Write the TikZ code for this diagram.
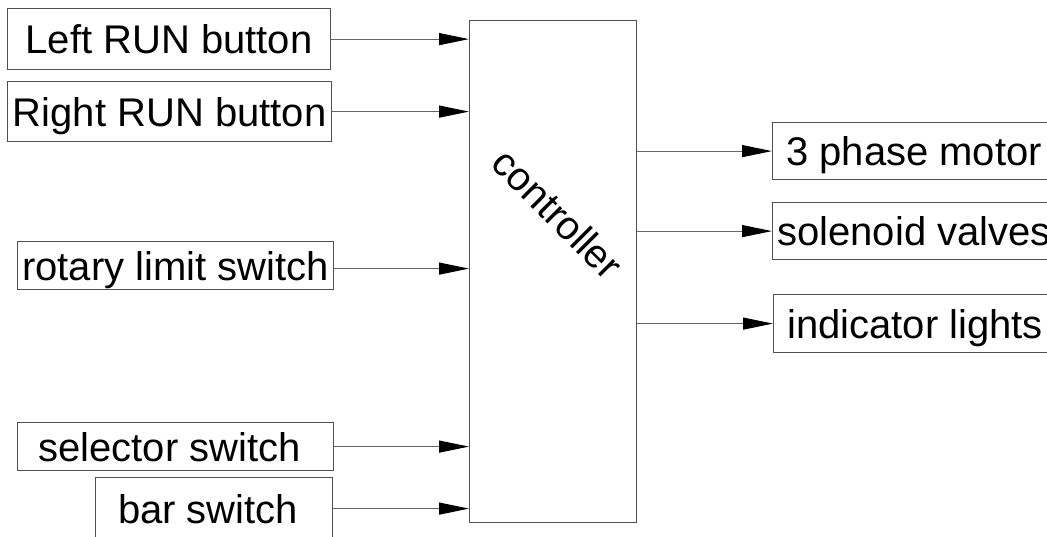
\documentclass[tikz,border=0pt]{standalone}
\usepackage{fontspec}
\setmainfont{Liberation Sans}
\usetikzlibrary{arrows.meta,positioning}
\definecolor{BoxGray}{HTML}{505050}
\definecolor{WireGray}{HTML}{666666}
\tikzset{
  inbox/.style={draw=BoxGray, line width=1.2pt, font=\fontsize{40}{48}\selectfont,
                text height=29pt, text depth=0pt, inner sep=0pt, anchor=north west},
  outbox/.style={inbox, minimum width=283pt},
  sigarr/.style={draw=WireGray, line width=1.2pt, -{Triangle[length=30pt,width=12pt,color=black]}}
}
\begin{document}
\begin{tikzpicture}[x=1pt, y=-1pt,
   ctl/.style={draw=BoxGray, line width=1.2pt, anchor=north west, inner sep=0pt,
               minimum width=167pt, minimum height=502pt},
   ctltext/.style={rotate=-45, font=\fontsize{40}{48}\selectfont, inner sep=0pt}]
\useasboundingbox (0,0) rectangle (1047,536);
% inputs
\node[inbox, minimum width=323pt, minimum height=61pt] (lrun) at (7,8) {Left RUN button};
\node[inbox, minimum width=324pt, minimum height=60pt] (rrun) at (7,81) {Right RUN button};
\node[inbox, minimum width=316pt, minimum height=48pt] (rotary) at (17,241) {rotary limit switch};
\node[inbox, minimum width=316pt, minimum height=48pt] (selector) at (17,422) {selector switch\hspace*{12pt}};
\node[inbox, minimum width=237pt, minimum height=62pt] (bar) at (95,477) {bar switch\hspace*{12pt}};
% controller
\node[ctl] (ctrl) at (469,20) {};
\node[ctltext] (ctrllabel) at ([xshift=5pt, yshift=58pt]ctrl.center) {controller};
% outputs
\node[outbox, minimum height=57pt] (motor) at (772,122) {3 phase motor};
\node[outbox, minimum height=57pt] (valves) at (772,202) {solenoid valves};
\node[outbox, minimum height=58pt] (lights) at (773,294) {indicator lights};
% signal lines in
\draw[sigarr] (lrun.east) -- (lrun.east -| ctrl.west);
\draw[sigarr] (rrun.east) -- (rrun.east -| ctrl.west);
\draw[sigarr] ([yshift=-3pt]rotary.east) -- ([yshift=-3pt]rotary.east -| ctrl.west);
\draw[sigarr] (selector.east) -- (selector.east -| ctrl.west);
\draw[sigarr] (bar.east) -- (bar.east -| ctrl.west);
% signal lines out
\draw[sigarr] (ctrl.east |- motor.west) -- (motor.west);
\draw[sigarr] (ctrl.east |- valves.west) -- (valves.west);
\draw[sigarr] (ctrl.east |- lights.west) -- (lights.west);
\end{tikzpicture}
\end{document}
